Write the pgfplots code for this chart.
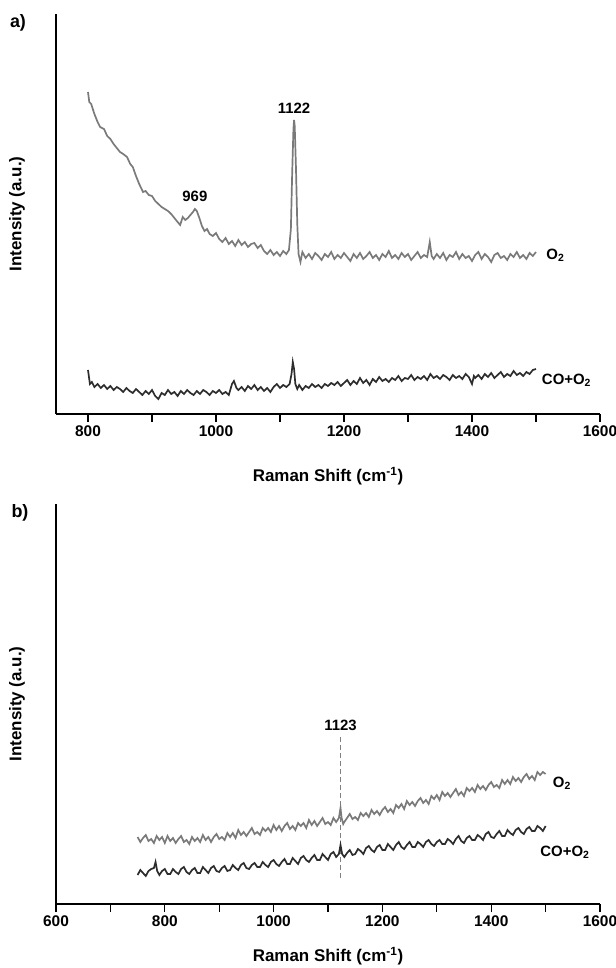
\documentclass[border=0pt]{standalone}
\usepackage{pgfplots}
\pgfplotsset{compat=1.18}
\usepackage{fontspec}
\setmainfont{Liberation Sans}
\definecolor{oxy}{RGB}{122,122,122}
\definecolor{coo}{RGB}{45,45,45}
\tikzset{lbl/.style={font=\fontsize{15}{17}\selectfont\bfseries, inner sep=0pt}}
\pgfplotsset{
  ramanax/.style={
    scale only axis, width=544bp, height=400bp,
    axis x line*=bottom, axis y line*=left,
    axis line style={line width=1.4bp, black},
    ytick=\empty, ymin=0, ymax=400,
    xmax=1600,
    tick align=outside,
    major tick length=8bp, minor tick length=8bp,
    every tick/.style={line width=1.3bp, black},
    /pgf/number format/assume math mode=true,
    /pgf/number format/1000 sep={},
    tick label style={font=\fontsize{15.5}{17}\selectfont\bfseries},
    label style={font=\fontsize{17}{19}\selectfont\bfseries},
    xlabel={Raman Shift (cm\textsuperscript{-1})},
    ylabel={Intensity (a.u.)},
    ylabel style={at={(axis description cs:-0.0717,0.5)}, anchor=center},
    clip=false,
  },
}
\begin{document}
\begin{tikzpicture}
\useasboundingbox (-56bp,-554bp) rectangle (560bp,414bp);
\node[font=\fontsize{18}{20}\selectfont\bfseries] at (-38bp,391bp) {a)};
\node[font=\fontsize{18}{20}\selectfont\bfseries] at (-36bp,-99bp) {b)};
\begin{axis}[ramanax, at={(0,0)}, anchor=origin, xmin=750,
  xlabel style={at={(axis description cs:0.5,-0.155)}, anchor=center},
  xtick={800,1000,1200,1400,1600}, minor xtick={900,1100,1300,1500}]
\addplot[oxy, line width=1.7bp] coordinates {
(800,322)(802,312)(805,310)(810,300)(815,292)(819,287)(825,285)(830,278)(835,275)(840,270)
(845,266)(850,262)(855,260)(861,257)(866,250)(870,247)(875,238)(880,230)(886,222)(890,223)
(895,219)(900,218)(905,213)(910,210)(915,207)(920,205)(925,203)(930,200)(935,196)(940,192)
(944,189)(948,197)(952,194)(956,196)(960,199)(964,202)(967,205)(970,203)(974,196)(978,188)
(982,183)(986,185)(990,180)(995,178)(1000,181)(1005,175)(1010,172)(1015,176)(1020,170)(1025,173)
(1030,168)(1035,174)(1040,169)(1045,172)(1050,167)(1055,170)(1060,171)(1065,166)(1070,169)(1075,163)
(1080,160)(1085,164)(1090,159)(1095,162)(1100,158)(1105,163)(1110,160)(1114,164)(1117,185)(1119,240)
(1121,285)(1122,294)(1123,288)(1125,245)(1127,190)(1129,160)(1132,152)(1135,162)(1140,156)(1145,160)
(1150,155)(1155,161)(1160,158)(1165,154)(1170,160)(1175,157)(1180,162)(1185,155)(1190,159)(1195,156)
(1200,161)(1205,157)(1210,153)(1215,160)(1220,156)(1225,161)(1230,155)(1235,158)(1240,162)(1245,156)
(1250,159)(1255,154)(1260,160)(1265,157)(1270,163)(1275,156)(1280,159)(1285,155)(1290,161)(1295,157)
(1300,160)(1305,154)(1310,158)(1315,162)(1320,156)(1325,159)(1330,157)(1334,172)(1337,158)(1340,155)
(1345,160)(1350,156)(1355,161)(1360,154)(1365,159)(1370,157)(1375,162)(1380,155)(1385,160)(1390,156)
(1395,158)(1400,153)(1405,159)(1410,162)(1415,155)(1420,160)(1425,157)(1430,152)(1435,159)(1440,161)
(1445,156)(1450,158)(1455,154)(1460,160)(1465,157)(1470,162)(1475,156)(1480,159)(1485,155)(1490,161)
(1495,158)(1500,162)
};
\addplot[coo, line width=1.7bp] coordinates {
(800,44)(803,30)(806,32)(810,27)(815,30)(820,26)(825,29)(830,25)(835,28)(840,24)
(845,27)(850,25)(855,22)(860,26)(865,23)(870,21)(875,25)(880,22)(885,19)(890,23)
(895,20)(900,24)(905,18)(910,15)(915,21)(920,19)(925,24)(930,20)(935,22)(940,18)
(945,23)(950,20)(955,24)(960,21)(965,19)(970,23)(975,20)(980,24)(985,22)(990,19)
(995,23)(1000,21)(1005,24)(1010,20)(1015,22)(1020,19)(1025,30)(1028,33)(1032,26)(1035,24)
(1040,27)(1045,23)(1050,28)(1055,25)(1060,29)(1065,24)(1070,27)(1075,23)(1080,26)(1085,22)
(1090,27)(1095,30)(1100,26)(1105,29)(1110,27)(1115,30)(1118,40)(1120,52)(1122,45)(1124,30)
(1127,25)(1130,29)(1135,24)(1140,28)(1145,26)(1150,30)(1155,27)(1160,29)(1165,26)(1170,30)
(1175,28)(1180,31)(1185,29)(1190,32)(1195,28)(1200,31)(1205,34)(1210,29)(1215,33)(1220,30)
(1225,36)(1230,31)(1235,34)(1240,29)(1245,35)(1250,32)(1255,37)(1260,33)(1265,35)(1270,32)
(1275,36)(1280,34)(1285,38)(1290,33)(1295,36)(1300,35)(1305,39)(1310,34)(1315,37)(1320,35)
(1325,38)(1330,34)(1335,40)(1340,36)(1345,38)(1350,35)(1355,39)(1360,37)(1365,34)(1370,39)
(1375,36)(1380,38)(1385,35)(1390,40)(1395,37)(1400,30)(1403,38)(1405,36)(1410,39)(1415,35)
(1420,40)(1425,37)(1430,41)(1435,36)(1440,39)(1445,42)(1450,37)(1455,40)(1460,38)(1465,43)
(1470,39)(1475,41)(1480,38)(1485,42)(1490,40)(1495,44)(1500,45)
};
\node[lbl, anchor=south] at (axis cs:1122,300) {1122};
\node[lbl] at (axis cs:967,218) {969};
\node[lbl, anchor=west] at (axis cs:1516,159) {O\textsubscript{2}};
\node[lbl, anchor=west] at (axis cs:1509,34) {CO+O\textsubscript{2}};
\end{axis}
\begin{axis}[ramanax, at={(0,-490bp)}, anchor=origin, xmin=600,
  xlabel style={at={(axis description cs:0.5,-0.13)}, anchor=center},
  xtick={600,800,1000,1200,1400,1600}, minor xtick={700,900,1100,1300,1500}]
\addplot[gray, dash pattern=on 5bp off 3bp, line width=1.2bp] coordinates {(1123,26) (1123,169)};
\addplot[oxy, line width=1.7bp] coordinates {
(750,67)(755,62)(760,66)(765,69)(770,63)(775,65)(780,61)(785,68)(790,64)(795,67)
(800,61)(805,68)(810,63)(815,66)(820,61)(825,65)(830,68)(835,62)(840,64)(845,60)
(850,67)(855,63)(860,66)(865,62)(870,69)(875,64)(880,67)(885,62)(890,67)(895,70)
(900,65)(905,67)(910,64)(915,71)(920,67)(925,71)(930,66)(935,74)(940,69)(945,72)
(950,68)(955,72)(960,76)(965,70)(970,72)(975,69)(980,76)(985,73)(990,76)(995,72)
(1000,79)(1005,74)(1010,78)(1015,73)(1020,78)(1025,81)(1030,75)(1035,78)(1040,74)(1045,81)
(1050,78)(1055,81)(1060,76)(1065,84)(1070,79)(1075,83)(1080,78)(1085,82)(1090,86)(1095,80)
(1100,82)(1105,79)(1110,86)(1115,82)(1120,86)(1123,96)(1125,86)(1128,80)(1130,82)(1135,86)
(1140,90)(1145,85)(1150,87)(1155,84)(1160,91)(1165,88)(1170,91)(1175,87)(1180,94)(1185,90)
(1190,93)(1195,89)(1200,94)(1205,97)(1210,92)(1215,95)(1220,91)(1225,99)(1230,96)(1235,100)
(1240,95)(1245,103)(1250,99)(1255,102)(1260,98)(1265,103)(1270,106)(1275,101)(1280,104)(1285,100)
(1290,108)(1295,105)(1300,109)(1305,104)(1310,112)(1315,108)(1320,111)(1325,107)(1330,111)(1335,115)
(1340,109)(1345,112)(1350,108)(1355,116)(1360,113)(1365,116)(1370,112)(1375,119)(1380,115)(1385,118)
(1390,114)(1395,119)(1400,122)(1405,117)(1410,119)(1415,116)(1420,124)(1425,120)(1430,124)(1435,120)
(1440,127)(1445,123)(1450,126)(1455,122)(1460,127)(1465,130)(1470,125)(1475,128)(1480,124)(1485,132)
(1490,129)(1495,132)(1500,130)
};
\addplot[coo, line width=1.7bp] coordinates {
(750,29)(755,34)(760,31)(765,28)(770,33)(775,35)(780,36)(783,42)(786,33)(790,29)
(795,33)(800,35)(805,30)(810,30)(815,35)(820,32)(825,30)(830,35)(835,37)(840,32)
(845,30)(850,34)(855,36)(860,31)(865,31)(870,37)(875,34)(880,31)(885,36)(890,38)
(895,33)(900,32)(905,36)(910,38)(915,33)(920,34)(925,39)(930,36)(935,34)(940,39)
(945,41)(950,36)(955,35)(960,39)(965,41)(970,37)(975,37)(980,42)(985,39)(990,37)
(995,42)(1000,44)(1005,40)(1010,38)(1015,42)(1020,45)(1025,40)(1030,40)(1035,46)(1040,43)
(1045,40)(1050,46)(1055,48)(1060,44)(1065,42)(1070,46)(1075,49)(1080,44)(1085,44)(1090,50)
(1095,47)(1100,44)(1105,50)(1110,52)(1115,47)(1120,50)(1123,59)(1126,50)(1130,47)(1135,51)
(1140,54)(1145,49)(1150,50)(1155,55)(1160,53)(1165,50)(1170,56)(1175,58)(1180,54)(1185,52)
(1190,57)(1195,59)(1200,54)(1205,54)(1210,60)(1215,57)(1220,54)(1225,59)(1230,62)(1235,57)
(1240,55)(1245,59)(1250,62)(1255,57)(1260,57)(1265,62)(1270,60)(1275,57)(1280,62)(1285,64)
(1290,60)(1295,58)(1300,62)(1305,64)(1310,60)(1315,60)(1320,65)(1325,63)(1330,60)(1335,65)
(1340,68)(1345,63)(1350,61)(1355,66)(1360,68)(1365,64)(1370,64)(1375,69)(1380,67)(1385,64)
(1390,70)(1395,72)(1400,67)(1405,66)(1410,70)(1415,73)(1420,68)(1425,68)(1430,74)(1435,71)
(1440,69)(1445,74)(1450,76)(1455,72)(1460,70)(1465,75)(1470,77)(1475,73)(1480,73)(1485,78)
(1490,76)(1495,73)(1500,78)
};
\node[lbl] at (axis cs:1123,179) {1123};
\node[lbl, anchor=west] at (axis cs:1513,121) {O\textsubscript{2}};
\node[lbl, anchor=west] at (axis cs:1490,52) {CO+O\textsubscript{2}};
\end{axis}
\end{tikzpicture}
\end{document}
